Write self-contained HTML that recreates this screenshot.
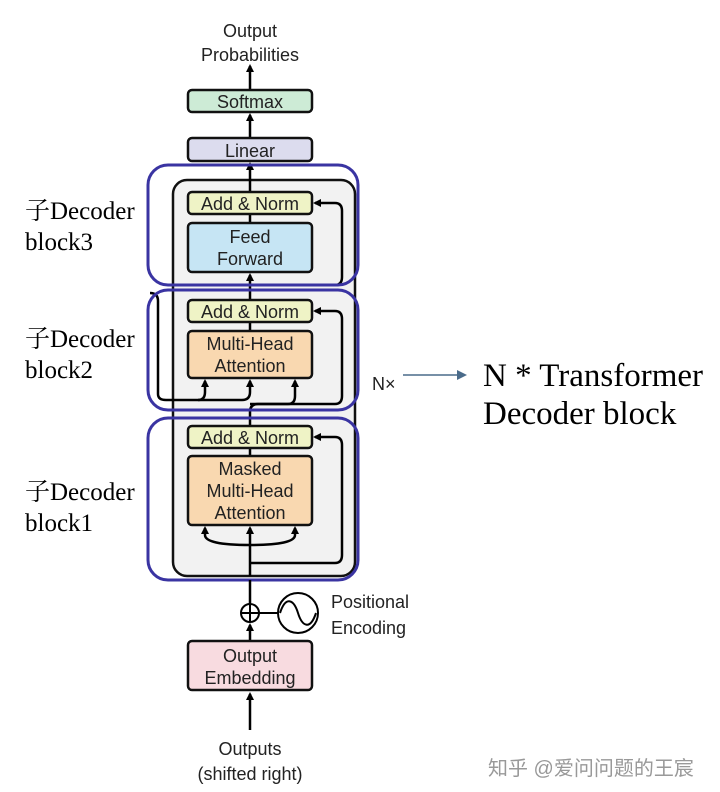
<!DOCTYPE html>
<html><head><meta charset="utf-8"><style>
html,body{margin:0;padding:0;background:#fff;}
svg{display:block;}
.s{font-family:"Liberation Sans",sans-serif;font-size:18px;fill:#222;}
.r{font-family:"Liberation Serif","Noto Serif CJK SC",serif;fill:#000;}
</style></head><body>
<svg width="720" height="792" viewBox="0 0 720 792" xmlns="http://www.w3.org/2000/svg">
<defs><marker id="a" markerWidth="8" markerHeight="8" refX="6" refY="4" orient="auto" markerUnits="userSpaceOnUse"><path d="M0,0 L8,4 L0,8 Z" fill="#000"/></marker>
<marker id="b" markerWidth="10" markerHeight="10" refX="8" refY="5" orient="auto" markerUnits="userSpaceOnUse"><path d="M0,0 L10,5 L0,10 Z" fill="#4a6b8a"/></marker></defs>
<text class="s" x="250" y="37" text-anchor="middle" font-size="21">Output</text>
<text class="s" x="250" y="61" text-anchor="middle" font-size="21">Probabilities</text>
<line x1="250" y1="90" x2="250" y2="66" stroke="#000" stroke-width="2.5" marker-end="url(#a)"/>
<rect x="188" y="90" width="124" height="22" rx="4" fill="#cdebd6" stroke="#111" stroke-width="2.5"/>
<text class="s" x="250" y="108" text-anchor="middle">Softmax</text>
<line x1="250" y1="138" x2="250" y2="115" stroke="#000" stroke-width="2.5" marker-end="url(#a)"/>
<rect x="188" y="138" width="124" height="23" rx="4" fill="#dcdcee" stroke="#111" stroke-width="2.5"/>
<text class="s" x="250" y="157" text-anchor="middle">Linear</text>
<rect x="173" y="180" width="182" height="396" rx="14" fill="#f2f2f2" stroke="#111" stroke-width="2.5"/>
<line x1="250" y1="192" x2="250" y2="164" stroke="#000" stroke-width="2.5" marker-end="url(#a)"/>
<g fill="none" stroke="#000" stroke-width="2.5">
<line x1="250" y1="576" x2="250" y2="528" marker-end="url(#a)"/>
<path d="M250,545 Q205,545 205,535 L205,528" marker-end="url(#a)"/>
<path d="M250,545 Q295,545 295,535 L295,528" marker-end="url(#a)"/>
<path d="M250,563 L335,563 Q342,563 342,555 L342,445 Q342,437 335,437 L315,437" marker-end="url(#a)"/>
<line x1="250" y1="456" x2="250" y2="448"/>
<path d="M250,426 L250,412 Q250,404 258,404 L288,404 Q295,404 295,396 L295,381" marker-end="url(#a)"/>
<path d="M250,404 L335,404 Q342,404 342,396 L342,319 Q342,311 335,311 L315,311" marker-end="url(#a)"/>
<path d="M150,293 Q158,293 158,301 L158,394 Q158,400 166,400 L242,400 Q250,400 250,392 L250,381" marker-end="url(#a)"/>
<path d="M198,400 Q205,400 205,392 L205,381" marker-end="url(#a)"/>
<line x1="250" y1="331" x2="250" y2="322"/>
<line x1="250" y1="300" x2="250" y2="275" marker-end="url(#a)"/>
<path d="M250,285 L335,285 Q342,285 342,277 L342,211 Q342,203 335,203 L315,203" marker-end="url(#a)"/>
<line x1="250" y1="223" x2="250" y2="214"/>
</g>
<rect x="188" y="192" width="124" height="22" rx="4" fill="#eff3c6" stroke="#111" stroke-width="2.5"/>
<text class="s" x="250" y="210" text-anchor="middle">Add &amp; Norm</text>
<rect x="188" y="223" width="124" height="49" rx="4" fill="#c6e5f4" stroke="#111" stroke-width="2.5"/>
<text class="s" x="250" y="243" text-anchor="middle">Feed</text>
<text class="s" x="250" y="265" text-anchor="middle">Forward</text>
<rect x="188" y="300" width="124" height="22" rx="4" fill="#eff3c6" stroke="#111" stroke-width="2.5"/>
<text class="s" x="250" y="318" text-anchor="middle">Add &amp; Norm</text>
<rect x="188" y="331" width="124" height="47" rx="4" fill="#f9d8b0" stroke="#111" stroke-width="2.5"/>
<text class="s" x="250" y="350" text-anchor="middle">Multi-Head</text>
<text class="s" x="250" y="372" text-anchor="middle">Attention</text>
<rect x="188" y="426" width="124" height="22" rx="4" fill="#eff3c6" stroke="#111" stroke-width="2.5"/>
<text class="s" x="250" y="444" text-anchor="middle">Add &amp; Norm</text>
<rect x="188" y="456" width="124" height="69" rx="4" fill="#f9d8b0" stroke="#111" stroke-width="2.5"/>
<text class="s" x="250" y="475" text-anchor="middle">Masked</text>
<text class="s" x="250" y="497" text-anchor="middle">Multi-Head</text>
<text class="s" x="250" y="519" text-anchor="middle">Attention</text>
<g fill="none" stroke="#3a34a2" stroke-width="3">
<rect x="148" y="165" width="210" height="120" rx="20"/>
<rect x="148" y="290" width="210" height="120" rx="20"/>
<rect x="148" y="418" width="210" height="162" rx="20"/>
</g>
<text class="s" x="372" y="390" font-size="18">N×</text>
<line x1="403" y1="375" x2="465" y2="375" stroke="#4a6b8a" stroke-width="1.5" marker-end="url(#b)"/>
<text class="r" x="483" y="386" font-size="33">N * Transformer</text>
<text class="r" x="483" y="424" font-size="33">Decoder block</text>
<g class="r" font-size="25">
<text x="25" y="219">子Decoder</text><text x="25" y="250">block3</text>
<text x="25" y="347">子Decoder</text><text x="25" y="378">block2</text>
<text x="25" y="500">子Decoder</text><text x="25" y="531">block1</text>
</g>
<line x1="250" y1="641" x2="250" y2="625" stroke="#000" stroke-width="2.5" marker-end="url(#a)"/>
<line x1="250" y1="604" x2="250" y2="580" stroke="#000" stroke-width="2.5"/>
<circle cx="250" cy="613" r="9" fill="#fff" stroke="#000" stroke-width="2"/>
<path d="M241,613 H259 M250,604 V622" stroke="#000" stroke-width="2"/>
<line x1="259" y1="613" x2="278" y2="613" stroke="#000" stroke-width="2"/>
<circle cx="298" cy="613" r="20" fill="#fff" stroke="#000" stroke-width="2"/>
<path d="M280,613 C286,595 294,600 298,613 C302,626 310,631 316,613" fill="none" stroke="#000" stroke-width="2"/>
<text class="s" x="331" y="608" font-size="21">Positional</text>
<text class="s" x="331" y="634" font-size="21">Encoding</text>
<rect x="188" y="641" width="124" height="49" rx="4" fill="#f8dbe0" stroke="#111" stroke-width="2.5"/>
<text class="s" x="250" y="662" text-anchor="middle">Output</text>
<text class="s" x="250" y="684" text-anchor="middle">Embedding</text>
<line x1="250" y1="730" x2="250" y2="694" stroke="#000" stroke-width="2.5" marker-end="url(#a)"/>
<text class="s" x="250" y="755" text-anchor="middle" font-size="21">Outputs</text>
<text class="s" x="250" y="780" text-anchor="middle" font-size="21">(shifted right)</text>
<text x="488" y="775" font-family="'Liberation Sans','Noto Sans CJK SC',sans-serif" font-size="20" fill="#999">知乎 @爱问问题的王宸</text>
</svg>
</body></html>
